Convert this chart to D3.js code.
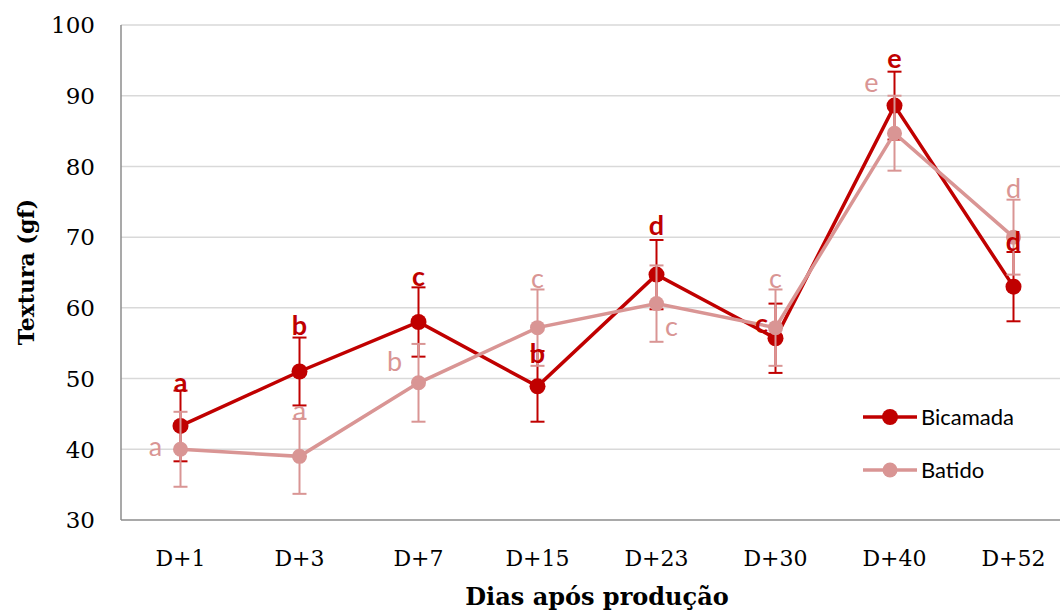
<!DOCTYPE html>
<html>
<head>
<meta charset="utf-8">
<script src="https://cdn.jsdelivr.net/npm/d3@7"></script>
<style>
  body { margin: 0; background: #fff; }
  svg { display: block; }
</style>
</head>
<body>
<div id="chart"></div>
<script>
// Data
const days = ["D+1", "D+3", "D+7", "D+15", "D+23", "D+30", "D+40", "D+52"];
const bicamada = [43.3, 51.0, 58.0, 48.9, 64.7, 55.7, 88.6, 63.0];
const bicamadaErr = [5.0, 4.8, 4.9, 5.0, 4.9, 4.9, 4.8, 4.9];
const bicamadaLetters = ["a", "b", "c", "b", "d", "c", "e", "d"];
const batido = [40.0, 39.0, 49.4, 57.2, 60.6, 57.2, 84.7, 70.0];
const batidoErr = [5.3, 5.3, 5.5, 5.4, 5.4, 5.4, 5.3, 5.3];
const batidoLetters = ["a", "a", "b", "c", "c", "c", "e", "d"];
const yTicks = [30, 40, 50, 60, 70, 80, 90, 100];

// label placement relative to the marker (pixels)
const bicamadaLabelPos = [[0, -43], [0, -46], [0, -45], [0, -33], [0, -49], [-14, -15], [0, -47], [0, -45]];
const batidoLabelPos = [[-25, -3], [0, -46], [-24, -21], [0, -49], [15, 23], [0, -49], [-23, -51], [0, -49]];

const width = 1060;
const height = 613;
const margin = { top: 25, left: 121, bottom: 93 };

const serif = "'DejaVu Serif', serif";
const sans = "Lato, 'Open Sans', sans-serif";

const svg = d3.select("#chart")
    .append("svg")
    .attr("width", width)
    .attr("height", height);

const x = d3.scaleBand()
    .domain(days)
    .range([margin.left, margin.left + 952]);

const y = d3.scaleLinear()
    .domain([30, 100])
    .range([height - margin.bottom, margin.top]);

const cx = d => x(d) + x.bandwidth() / 2;

// Gridlines
svg.append("g")
    .selectAll("line")
    .data(yTicks.slice(1))
    .enter().append("line")
    .attr("x1", margin.left)
    .attr("x2", width)
    .attr("y1", d => y(d))
    .attr("y2", d => y(d))
    .attr("stroke", "#d9d9d9")
    .attr("stroke-width", 1.5);

// Axis lines
svg.append("line")
    .attr("x1", margin.left).attr("x2", margin.left)
    .attr("y1", y(100)).attr("y2", y(30))
    .attr("stroke", "#8c8c8c").attr("stroke-width", 1.5);
svg.append("line")
    .attr("x1", margin.left).attr("x2", width)
    .attr("y1", y(30)).attr("y2", y(30))
    .attr("stroke", "#8c8c8c").attr("stroke-width", 1.5);

// Y tick labels
svg.append("g")
    .selectAll("text")
    .data(yTicks)
    .enter().append("text")
    .attr("x", 95)
    .attr("y", d => y(d))
    .attr("dy", "0.36em")
    .attr("text-anchor", "end")
    .style("font-family", serif)
    .style("font-size", "23px")
    .text(d => d);

// X tick labels
svg.append("g")
    .selectAll("text")
    .data(days)
    .enter().append("text")
    .attr("x", d => cx(d))
    .attr("y", 566)
    .attr("text-anchor", "middle")
    .style("font-family", serif)
    .style("font-size", "22px")
    .text(d => d);

// Axis titles
svg.append("text")
    .attr("transform", "translate(34,272) rotate(-90)")
    .attr("text-anchor", "middle")
    .style("font-family", serif)
    .style("font-weight", "bold")
    .style("font-size", "22px")
    .text("Textura (gf)");

svg.append("text")
    .attr("x", 597)
    .attr("y", 605)
    .attr("text-anchor", "middle")
    .style("font-family", serif)
    .style("font-weight", "bold")
    .style("font-size", "24px")
    .text("Dias após produção");

const series = [
    { name: "Bicamada", values: bicamada, err: bicamadaErr, letters: bicamadaLetters,
      pos: bicamadaLabelPos, color: "#c00000", r: 8, weight: "bold" },
    { name: "Batido", values: batido, err: batidoErr, letters: batidoLetters,
      pos: batidoLabelPos, color: "#d99594", r: 7.5, weight: "normal" }
];

const line = d3.line()
    .x((d, i) => cx(days[i]))
    .y(d => y(d));

series.forEach(s => {
    const g = svg.append("g").attr("class", "series");

    // error bars
    const eb = g.selectAll(".err")
        .data(s.values)
        .enter().append("g")
        .attr("class", "err")
        .attr("stroke", s.color)
        .attr("stroke-width", 2);
    eb.append("line")
        .attr("x1", (d, i) => cx(days[i])).attr("x2", (d, i) => cx(days[i]))
        .attr("y1", (d, i) => y(d - s.err[i])).attr("y2", (d, i) => y(d + s.err[i]));
    eb.append("line")
        .attr("x1", (d, i) => cx(days[i]) - 7).attr("x2", (d, i) => cx(days[i]) + 7)
        .attr("y1", (d, i) => y(d + s.err[i])).attr("y2", (d, i) => y(d + s.err[i]));
    eb.append("line")
        .attr("x1", (d, i) => cx(days[i]) - 7).attr("x2", (d, i) => cx(days[i]) + 7)
        .attr("y1", (d, i) => y(d - s.err[i])).attr("y2", (d, i) => y(d - s.err[i]));

    g.append("path")
        .datum(s.values)
        .attr("d", line)
        .attr("fill", "none")
        .attr("stroke", s.color)
        .attr("stroke-width", 3.5);

    g.selectAll("circle")
        .data(s.values)
        .enter().append("circle")
        .attr("cx", (d, i) => cx(days[i]))
        .attr("cy", d => y(d))
        .attr("r", s.r)
        .attr("fill", s.color);
});

// letter labels on top
series.forEach(s => {
    svg.append("g")
        .selectAll("text")
        .data(s.values)
        .enter().append("text")
        .attr("x", (d, i) => cx(days[i]) + s.pos[i][0])
        .attr("y", (d, i) => y(d) + s.pos[i][1])
        .attr("dy", "0.35em")
        .attr("text-anchor", "middle")
        .attr("fill", s.color)
        .style("font-family", sans)
        .style("font-weight", s.weight)
        .style("font-size", "27px")
        .text((d, i) => s.letters[i]);
});

// Legend
const legend = svg.append("g");
series.forEach((s, i) => {
    const ly = 417 + i * 53;
    legend.append("line")
        .attr("x1", 863).attr("x2", 917)
        .attr("y1", ly).attr("y2", ly)
        .attr("stroke", s.color).attr("stroke-width", 3.5);
    legend.append("circle")
        .attr("cx", 890).attr("cy", ly).attr("r", s.r)
        .attr("fill", s.color);
    legend.append("text")
        .attr("x", 921).attr("y", ly)
        .attr("dy", "0.35em")
        .style("font-family", sans)
        .style("font-size", "22px")
        .attr("fill", "#000")
        .text(s.name);
});
</script>
</body>
</html>
